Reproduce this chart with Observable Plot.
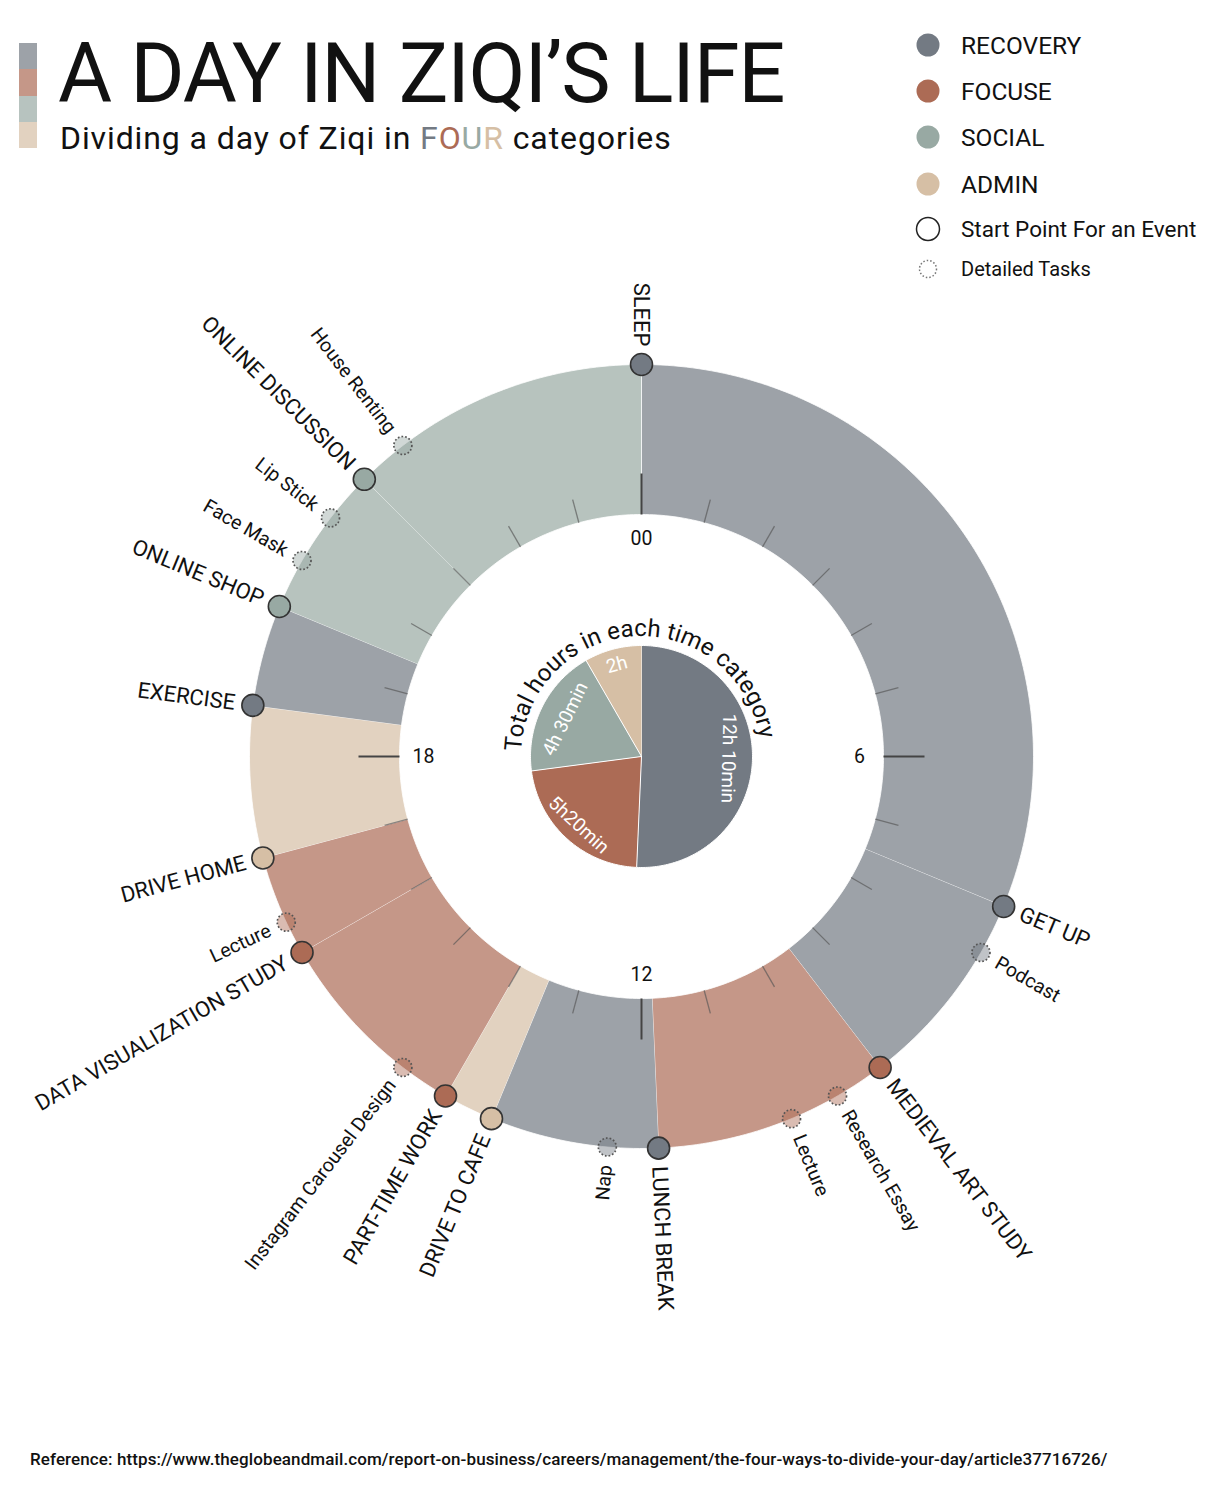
<!DOCTYPE html>
<html>
<head>
<meta charset="utf-8">
<script src="https://cdn.jsdelivr.net/npm/d3@7"></script>
<script src="https://cdn.jsdelivr.net/npm/@observablehq/plot@0.6"></script>
<style>
  body { margin: 0; background: #fff; font-family: Roboto, "Noto Sans", sans-serif; color: #111; }
  #wrap { position: relative; width: 1221px; height: 1490px; overflow: hidden; }
  #chart { position: absolute; left: 0; top: 0; }
  .bar { position: absolute; left: 19px; width: 18px; }
  #title { position: absolute; left: 58px; top: 32px; font-size: 83px; line-height: 1; white-space: nowrap; letter-spacing: -1.2px; }
  #subtitle { position: absolute; left: 60px; top: 122px; font-size: 32px; line-height: 1; white-space: nowrap; letter-spacing: 0.9px; }
  #legend { position: absolute; left: 900px; top: 0; }
  #caption { position: absolute; left: 30px; top: 1451px; font-size: 17px; line-height: 1; font-weight: 500; white-space: nowrap; letter-spacing: 0.1px; }
</style>
</head>
<body>
<div id="wrap">
  <div id="chart"></div>
  <div id="bars"></div>
  <div id="title">A DAY IN ZIQI’S LIFE</div>
  <div id="subtitle"></div>
  <div id="legend"></div>
  <div id="caption">Reference: https://www.theglobeandmail.com/report-on-business/careers/management/the-four-ways-to-divide-your-day/article37716726/</div>
</div>
<script>
// ---------------- data ----------------
const categories = ["RECOVERY", "FOCUSE", "SOCIAL", "ADMIN"];
const categoryColors = ["#737a83", "#ac6b55", "#98a9a3", "#d6bfa5"];
const categoryHours = [12 + 10 / 60, 5 + 20 / 60, 4.5, 2];
const categoryLabels = ["12h 10min", "5h20min", "4h 30min", "2h"];

const events = ["SLEEP", "GET UP", "MEDIEVAL ART STUDY", "LUNCH BREAK", "DRIVE TO CAFE", "PART-TIME WORK",
  "DATA VISUALIZATION STUDY", "DRIVE HOME", "EXERCISE", "ONLINE SHOP", "ONLINE DISCUSSION"];
const eventStart = [0, 7.5, 9.5, 11 + 50 / 60, 13.5, 14, 16, 17, 18.5, 19.5, 21];
const eventEnd = [7.5, 9.5, 11 + 50 / 60, 13.5, 14, 16, 17, 18.5, 19.5, 21, 24];
const eventCategory = ["RECOVERY", "RECOVERY", "FOCUSE", "RECOVERY", "ADMIN", "FOCUSE",
  "FOCUSE", "ADMIN", "RECOVERY", "SOCIAL", "SOCIAL"];

const tasks = ["Podcast", "Research Essay", "Lecture", "Nap", "Instagram Carousel Design", "Lecture",
  "Face Mask", "Lip Stick", "House Renting"];
const taskTime = [8, 10, 10.5, 12 + 20 / 60, 14.5, 16 + 20 / 60, 20, 20.5, 21.5];
const taskCategory = ["RECOVERY", "FOCUSE", "FOCUSE", "RECOVERY", "FOCUSE", "FOCUSE", "SOCIAL", "SOCIAL", "SOCIAL"];

const hourTicks = [0, 1, 2, 3, 4, 5, 6, 7, 8, 9, 10, 11, 12, 13, 14, 15, 16, 17, 18, 19, 20, 21, 22, 23];
const hourLabelHours = [0, 6, 12, 18];
const hourLabels = ["00", "6", "12", "18"];

const legendExtra = ["Start Point For an Event", "Detailed Tasks"];

// ---------------- geometry helpers ----------------
const R_OUT = 392, R_IN = 242, R_PIE = 111;
const rad = h => h / 24 * 2 * Math.PI;
const X = (h, r) => r * Math.sin(rad(h));
const Y = (h, r) => r * Math.cos(rad(h));
const deg = h => h / 24 * 360;
const leftSide = h => (h % 24 === 0) || h >= 12;

// ring segments
const arcRows = [];
events.forEach((name, i) => {
  const a = eventStart[i], b = eventEnd[i];
  const n = Math.max(4, Math.ceil((b - a) * 16));
  for (let k = 0; k <= n; k++) { const h = a + (b - a) * k / n; arcRows.push({id: name, category: eventCategory[i], x: X(h, R_OUT), y: Y(h, R_OUT)}); }
  for (let k = n; k >= 0; k--) { const h = a + (b - a) * k / n; arcRows.push({id: name, category: eventCategory[i], x: X(h, R_IN), y: Y(h, R_IN)}); }
});

// pie wedges
const pieRows = [];
const pieLabelRows = [];
let acc = 0;
categories.forEach((c, i) => {
  const a = acc, b = acc + categoryHours[i];
  acc = b;
  const n = Math.max(4, Math.ceil((b - a) * 16));
  pieRows.push({id: c, category: c, x: 0, y: 0});
  for (let k = 0; k <= n; k++) { const h = a + (b - a) * k / n; pieRows.push({id: c, category: c, x: X(h, R_PIE), y: Y(h, R_PIE)}); }
  const m = (a + b) / 2, t = deg(m);
  const lr = [87, 93, 85, 95][i];
  pieLabelRows.push({text: categoryLabels[i], x: X(m, lr), y: Y(m, lr), rot: ((t + 80) % 180) - 80});
});

const tickRows = hourTicks.map(h => {
  const major = h % 6 === 0;
  const r2 = major ? 283 : 266;
  return {major, x1: X(h, R_IN), y1: Y(h, R_IN), x2: X(h, r2), y2: Y(h, r2)};
});
const hourLabelRows = hourLabelHours.map((h, i) => ({text: hourLabels[i], x: X(h, 218), y: Y(h, 218)}));

const eventRows = events.map((name, i) => ({name, category: eventCategory[i], h: eventStart[i], x: X(eventStart[i], R_OUT), y: Y(eventStart[i], R_OUT)}));
const taskRows = tasks.map((name, i) => ({name, category: taskCategory[i], h: taskTime[i], x: X(taskTime[i], R_OUT), y: Y(taskTime[i], R_OUT)}));

const LR = 410;
const labelRow = d => {
  const t = deg(d.h), left = leftSide(d.h);
  return {text: d.name, left, x: X(d.h, LR), y: Y(d.h, LR), rot: left ? t + 90 : t - 90};
};
const eventLabels = eventRows.map(labelRow);
const taskLabels = taskRows.map(labelRow);

// ---------------- chart ----------------
const W = 1221, H = 1430;
const FONT = "Roboto, 'Noto Sans', sans-serif";
const chart = Plot.plot({
  width: W, height: H, margin: 0,
  style: {fontFamily: FONT, background: "transparent", overflow: "visible"},
  x: {domain: [-641, W - 641], axis: null},
  y: {domain: [756 - H, 756], axis: null},
  color: {domain: categories, range: categoryColors},
  marks: [
    Plot.line(arcRows, {x: "x", y: "y", z: "id", fill: "category", fillOpacity: 0.7, stroke: "white", strokeWidth: 1, strokeOpacity: 0.8, curve: "linear"}),
    Plot.link(tickRows.filter(d => !d.major), {x1: "x1", y1: "y1", x2: "x2", y2: "y2", stroke: "#555", strokeOpacity: 0.65, strokeWidth: 1.3}),
    Plot.link(tickRows.filter(d => d.major), {x1: "x1", y1: "y1", x2: "x2", y2: "y2", stroke: "#444", strokeWidth: 2}),
    Plot.text(hourLabelRows, {x: "x", y: "y", text: "text", fontSize: 19.5, fill: "#111"}),
    Plot.dot(taskRows, {x: "x", y: "y", r: 9, fill: "category", fillOpacity: 0.45, stroke: "#555", strokeWidth: 1.7, strokeDasharray: "1.7,2"}),
    Plot.dot(eventRows, {x: "x", y: "y", r: 11, fill: "category", stroke: "#333", strokeWidth: 1.6}),
    Plot.text(eventLabels.filter(d => !d.left), {x: "x", y: "y", text: "text", rotate: "rot", textAnchor: "start", fontSize: 22, fill: "#111"}),
    Plot.text(eventLabels.filter(d => d.left), {x: "x", y: "y", text: "text", rotate: "rot", textAnchor: "end", fontSize: 22, fill: "#111"}),
    Plot.text(taskLabels.filter(d => !d.left), {x: "x", y: "y", text: "text", rotate: "rot", textAnchor: "start", fontSize: 19.5, fill: "#111"}),
    Plot.text(taskLabels.filter(d => d.left), {x: "x", y: "y", text: "text", rotate: "rot", textAnchor: "end", fontSize: 19.5, fill: "#111"}),
    Plot.line(pieRows, {x: "x", y: "y", z: "id", fill: "category", stroke: "white", strokeWidth: 1, curve: "linear"}),
    Plot.text(pieLabelRows, {x: "x", y: "y", text: "text", rotate: "rot", fontSize: 19, fill: "white"})
  ]
});
document.getElementById("chart").appendChild(chart);

// curved pie title
const cx = chart.scale("x").apply(0), cy = chart.scale("y").apply(0);
const tr = 120;
const svg = d3.select(chart);
svg.append("defs").append("path")
  .attr("id", "pieTitlePath")
  .attr("d", `M${cx},${cy + tr} A${tr},${tr} 0 1 1 ${cx},${cy - tr} A${tr},${tr} 0 1 1 ${cx},${cy + tr}`);
svg.append("text")
  .attr("font-size", 24).attr("fill", "#111").attr("font-family", FONT)
  .append("textPath").attr("href", "#pieTitlePath").attr("startOffset", (50 - 3 / 3.6) + "%").attr("text-anchor", "middle")
  .text("Total hours in each time category");

// color bars beside title
const barColors = categoryColors.map(c => { const k = d3.color(c); const w = 0.7; return d3.rgb(k.r * w + 255 * (1 - w), k.g * w + 255 * (1 - w), k.b * w + 255 * (1 - w)).formatHex(); });
const bars = document.getElementById("bars");
barColors.forEach((c, i) => {
  const d = document.createElement("div");
  d.className = "bar";
  d.style.top = (43 + i * 26.25) + "px";
  d.style.height = "26.25px";
  d.style.background = c;
  bars.appendChild(d);
});

// subtitle with coloured FOUR
const sub = document.getElementById("subtitle");
sub.append("Dividing a day of Ziqi in ");
"FOUR".split("").forEach((ch, i) => { const s = document.createElement("span"); s.textContent = ch; s.style.color = categoryColors[i]; sub.appendChild(s); });
sub.append(" categories");

// legend
const lg = d3.select("#legend").append("svg").attr("width", 321).attr("height", 300)
  .style("font-family", FONT);
const legendY = [45, 91, 137, 184, 229, 269];
categories.forEach((c, i) => {
  lg.append("circle").attr("cx", 28).attr("cy", legendY[i]).attr("r", 11.5).attr("fill", categoryColors[i]);
  lg.append("text").attr("x", 61).attr("y", legendY[i]).attr("dy", "0.36em").attr("font-size", 24.5).attr("fill", "#111").text(c);
});
lg.append("circle").attr("cx", 28).attr("cy", legendY[4]).attr("r", 11.5).attr("fill", "white").attr("stroke", "#222").attr("stroke-width", 1.5);
lg.append("text").attr("x", 61).attr("y", legendY[4]).attr("dy", "0.36em").attr("font-size", 22.5).attr("fill", "#111").text(legendExtra[0]);
lg.append("circle").attr("cx", 28).attr("cy", legendY[5]).attr("r", 8.5).attr("fill", "white").attr("stroke", "#777").attr("stroke-width", 1.5).attr("stroke-dasharray", "1.5,2");
lg.append("text").attr("x", 61).attr("y", legendY[5]).attr("dy", "0.36em").attr("font-size", 20).attr("fill", "#111").text(legendExtra[1]);
</script>
</body>
</html>
